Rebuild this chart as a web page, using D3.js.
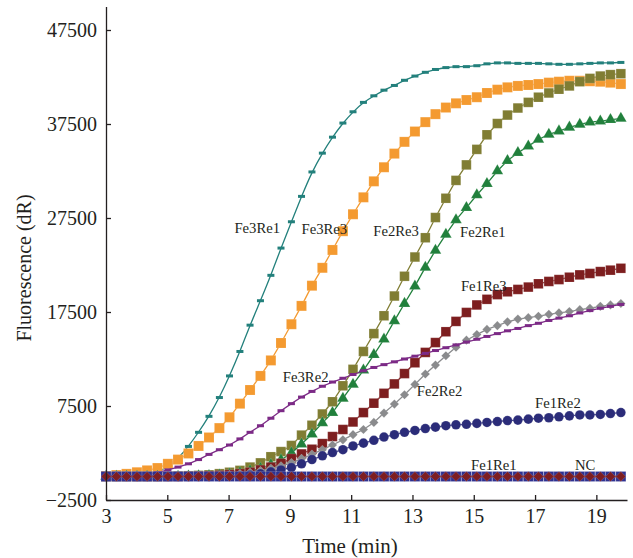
<!DOCTYPE html>
<html lang="en">
<head>
    <meta charset="UTF-8">
    <title>Fluorescence curves</title>
    <style>
        body { margin: 0; background: #fff; }
        text { font-family: "Liberation Serif", "DejaVu Serif", serif; fill: #231f20; }
        .tick text { font-size: 20px; }
        .domain, .tick line { stroke: #231f20; stroke-width: 1.3; }
    </style>
</head>
<body>
    <script src="https://d3js.org/d3.v7.min.js"></script>
    <script>
        // sampling times (min)
        const time = [3.00, 3.34, 3.67, 4.01, 4.34, 4.68, 5.02, 5.35, 5.69, 6.02, 6.36, 6.70, 7.03, 7.37, 7.70, 8.04, 8.38,
            8.71, 9.05, 9.38, 9.72, 10.06, 10.39, 10.73, 11.06, 11.40, 11.74, 12.07, 12.41, 12.74, 13.08, 13.42, 13.75,
            14.09, 14.42, 14.76, 15.10, 15.43, 15.77, 16.10, 16.44, 16.78, 17.11, 17.45, 17.78, 18.12, 18.46, 18.79,
            19.13, 19.46, 19.80];

        const fe3re1 = [0, 30, 70, 130, 250, 500, 1000, 1900, 3200, 4700, 6400, 8400, 10700, 13300, 16100, 18700, 21400,
            24300, 27100, 29800, 32400, 34400, 36100, 37600, 38800, 39800, 40500, 41100, 41600, 42150, 42600, 43000, 43300,
            43500, 43600, 43600, 43700, 43900, 44000, 44000, 43950, 43950, 43950, 43900, 43850, 43850, 43900, 43950,
            44000, 44000, 44050];
        const fe3re3 = [50, 150, 280, 450, 650, 900, 1350, 1800, 2450, 3250, 4150, 5150, 6300, 7750, 9200, 10700, 12350,
            14200, 16200, 18150, 20300, 22200, 24100, 26100, 27900, 29700, 31400, 32900, 34350, 35600, 36700, 37700, 38550,
            39250, 39700, 40050, 40350, 40800, 41150, 41400, 41550, 41650, 41750, 41900, 42000, 42100, 42100, 42050,
            42000, 41900, 41750];
        const fe2re3 = [0, 0, 0, 0, 0, 0, 20, 50, 80, 120, 180, 300, 450, 650, 1000, 1450, 2100,
            2650, 3300, 4400, 5450, 6650, 7950, 9650, 11400, 13300, 15200, 17100, 19200, 21300, 23350, 25400, 27550,
            29600, 31500, 33150, 34800, 36350, 37550, 38450, 39200, 39800, 40350, 40800, 41200, 41550, 42000, 42350,
            42600, 42750, 42850];
        const fe2re1 = [0, 0, 0, 0, 0, 0, 0, 20, 40, 70, 100, 150, 250, 400, 600, 850, 1250,
            1750, 2500, 3450, 4500, 5700, 6800, 8300, 9800, 11300, 12950, 14600, 16550, 18400, 20250, 22250, 24050,
            25750, 27300, 28600, 29950, 31150, 32500, 33600, 34450, 35150, 35850, 36400, 36750, 37150, 37450, 37700,
            37800, 37950, 38100];
        const fe1re3 = [0, 0, 0, 0, 0, 0, 0, 0, 20, 50, 80, 130, 200, 300, 450, 700, 1000,
            1400, 1900, 2400, 2900, 3500, 4250, 5000, 5800, 6800, 7800, 8850, 9850, 10950, 12100, 13200, 14250,
            15400, 16500, 17450, 18250, 18850, 19350, 19650, 19900, 20150, 20500, 20750, 20950, 21200, 21450, 21600,
            21800, 21950, 22150];
        const fe2re2 = [0, 0, 0, 0, 0, 0, 0, 0, 0, 20, 50, 100, 180, 280, 420, 600, 850,
            1100, 1450, 1900, 2350, 2850, 3350, 3900, 4450, 5000, 5750, 6750, 7700, 8700, 9800, 10900, 11850,
            12850, 13750, 14500, 15100, 15650, 16050, 16450, 16750, 16900, 17050, 17250, 17400, 17550, 17750, 17900,
            18100, 18250, 18400];
        const fe1re2 = [0, 0, 0, 0, 0, 0, 0, 0, 0, 0, 0, 0, 20, 60, 150, 300, 500,
            700, 950, 1350, 1800, 2200, 2550, 2850, 3250, 3550, 3850, 4200, 4450, 4700, 4900, 5100, 5250,
            5400, 5500, 5550, 5650, 5750, 5850, 5950, 6000, 6100, 6200, 6250, 6350, 6450, 6550, 6550,
            6600, 6700, 6800];
        const fe3re2 = [0, 20, 50, 100, 200, 400, 700, 1000, 1350, 1800, 2350, 2850, 3350, 4000, 4700, 5400, 6200,
            7000, 7750, 8450, 9050, 9600, 10050, 10450, 10850, 11250, 11600, 11900, 12200, 12500, 12800, 13100, 13400,
            13700, 14000, 14300, 14600, 14900, 15200, 15500, 15750, 16050, 16300, 16600, 16850, 17100, 17400, 17650,
            17900, 18100, 18300];
        const nc = [0, 0, 0, 0, 0, 0, 0, 0, 0, 0, 0, 0, 0, 0, 0, 0, 0,
            0, 0, 0, 0, 0, 0, 0, 0, 0, 0, 0, 0, 0, 0, 0, 0,
            0, 0, 0, 0, 0, 0, 0, 0, 0, 0, 0, 0, 0, 0, 0,
            0, 0, 0];
        const fe1re1 = [0, 0, 0, 0, 0, 0, 0, 0, 0, 0, 0, 0, 0, 0, 0, 0, 0,
            0, 0, 0, 0, 0, 0, 0, 0, 0, 0, 0, 0, 0, 0, 0, 0,
            0, 0, 0, 0, 0, 0, 0, 0, 0, 0, 0, 0, 0, 0, 0,
            0, 0, 0];

        const xTicks = [3, 5, 7, 9, 11, 13, 15, 17, 19];
        const yTicks = [-2500, 7500, 17500, 27500, 37500, 47500];
        const yTickLabels = ["\u22122500", "7500", "17500", "27500", "37500", "47500"];

        // label anchors in data units (time, dR)
        const labelNames = ["Fe3Re1", "Fe3Re3", "Fe2Re3", "Fe2Re1", "Fe1Re3", "Fe3Re2", "Fe2Re2", "Fe1Re2", "Fe1Re1", "NC"];
        const labelTime = [7.19, 9.38, 11.72, 14.55, 14.58, 8.77, 13.14, 17.0, 14.91, 18.30];
        const labelValue = [25900, 25850, 25620, 25510, 19770, 10090, 8600, 7260, 690, 690];

        const width = 633, height = 558;

        const svg = d3.select("body").append("svg")
            .attr("width", width)
            .attr("height", height);

        const x = d3.scaleLinear().domain([3, 20]).range([106, 627]);
        const y = d3.scaleLinear().domain([-2500, 50000]).range([500, 6.5]);

        // draw order matters: later series sit on top
        const series = [
            { name: "Fe3Re1", values: fe3re1, color: "#23807c", marker: "dash", curve: d3.curveBasis },
            { name: "Fe3Re3", values: fe3re3, color: "#f49a30", marker: "square", size: 100 },
            { name: "Fe2Re3", values: fe2re3, color: "#807d33", marker: "square", size: 92 },
            { name: "Fe2Re1", values: fe2re1, color: "#21803c", marker: "triangle", size: 58 },
            { name: "Fe1Re3", values: fe1re3, color: "#7d1e1f", marker: "square", size: 92 },
            { name: "Fe2Re2", values: fe2re2, color: "#8a8b8d", marker: "diamond", size: 42 },
            { name: "Fe1Re2", values: fe1re2, color: "#2b2c79", marker: "circle", size: 72 },
            { name: "Fe3Re2", values: fe3re2, color: "#7c2a86", marker: "dash" },
            { name: "NC", values: nc, color: "#2e3190", marker: "square", size: 100 },
            { name: "Fe1Re1", values: fe1re1, color: "#7d1e22", marker: "diamond", size: 48 }
        ];

        const symbolType = {
            square: d3.symbolSquare,
            diamond: d3.symbolSquare,
            triangle: d3.symbolTriangle,
            circle: d3.symbolCircle
        };

        series.forEach(s => {
            const pts = time.map((t, i) => [t, s.values[i]]);
            const g = svg.append("g");

            const line = d3.line()
                .x(d => x(d[0]))
                .y(d => y(d[1]))
                .curve(s.curve || d3.curveLinear);

            g.append("path")
                .datum(pts)
                .attr("fill", "none")
                .attr("stroke", s.color)
                .attr("stroke-width", 1.3)
                .attr("d", line);

            if (s.marker === "dash") {
                g.selectAll("rect")
                    .data(pts)
                    .enter()
                    .append("rect")
                    .attr("x", d => x(d[0]) - 3.5)
                    .attr("y", d => y(d[1]) - 1.5)
                    .attr("width", 7)
                    .attr("height", 3)
                    .attr("fill", s.color);
            } else {
                const sym = d3.symbol().type(symbolType[s.marker]).size(s.size);
                g.selectAll("path.mk")
                    .data(pts)
                    .enter()
                    .append("path")
                    .attr("class", "mk")
                    .attr("d", sym)
                    .attr("transform", d => `translate(${x(d[0])},${y(d[1])})` + (s.marker === "diamond" ? " rotate(45)" : ""))
                    .attr("fill", s.color)
                    .attr("stroke", "#fff")
                    .attr("stroke-opacity", 0.25)
                    .attr("stroke-width", 0.6);
            }
        });

        // axes
        const xAxis = d3.axisBottom(x)
            .tickValues(xTicks)
            .tickFormat(d3.format("d"))
            .tickSizeInner(-5)
            .tickSizeOuter(0)
            .tickPadding(9);

        const yAxis = d3.axisLeft(y)
            .tickValues(yTicks)
            .tickFormat((d, i) => yTickLabels[i])
            .tickSizeInner(-5)
            .tickSizeOuter(0)
            .tickPadding(9);

        svg.append("g")
            .attr("transform", "translate(0,500)")
            .call(xAxis)
            .call(g => g.selectAll("text").attr("fill", "#231f20"));

        svg.append("g")
            .attr("transform", "translate(106,0)")
            .call(yAxis)
            .call(g => g.selectAll("text").attr("fill", "#231f20"));

        // series labels
        svg.append("g")
            .selectAll("text")
            .data(labelNames)
            .enter()
            .append("text")
            .attr("x", (d, i) => x(labelTime[i]))
            .attr("y", (d, i) => y(labelValue[i]))
            .attr("font-size", 14.7)
            .attr("fill", "#333")
            .text(d => d);

        // axis titles
        svg.append("text")
            .attr("x", 350)
            .attr("y", 553)
            .attr("text-anchor", "middle")
            .attr("font-size", 21)
            .text("Time (min)");

        svg.append("text")
            .attr("transform", "translate(31,268) rotate(-90)")
            .attr("text-anchor", "middle")
            .attr("font-size", 20)
            .text("Fluorescence (dR)");
    </script>
</body>
</html>
